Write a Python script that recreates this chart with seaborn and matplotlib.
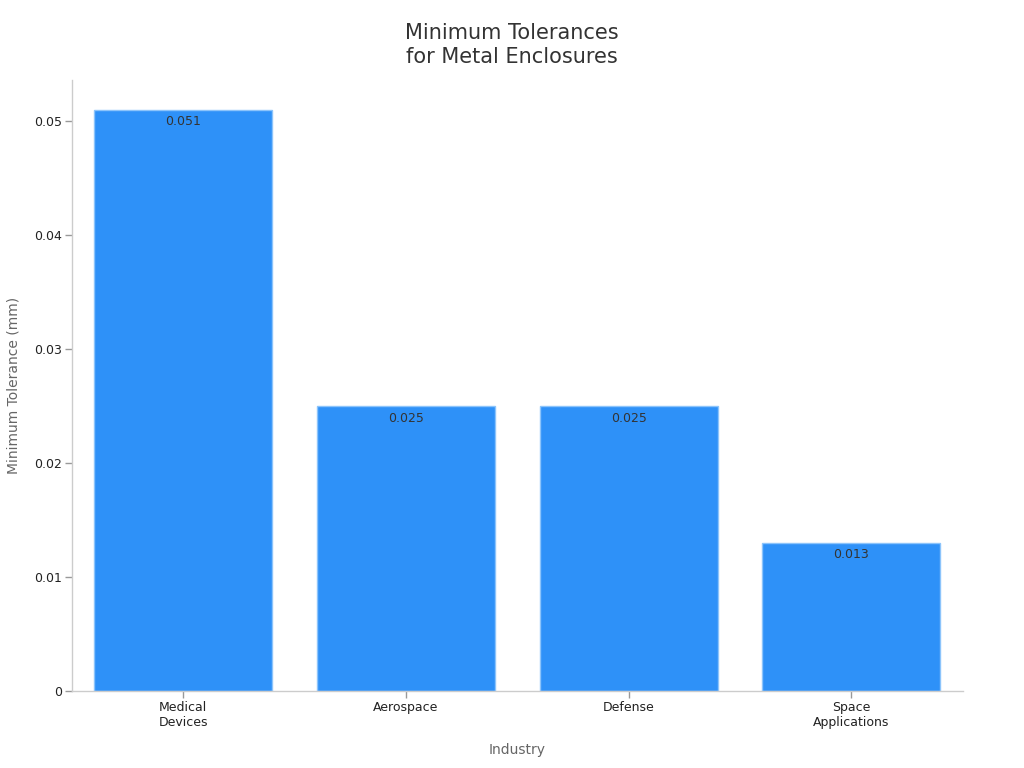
import matplotlib
matplotlib.use("Agg")
import matplotlib.pyplot as plt
import seaborn as sns
import pandas as pd
from matplotlib.ticker import FuncFormatter

industries = ["Medical\nDevices", "Aerospace", "Defense", "Space\nApplications"]
tolerances = [0.051, 0.025, 0.025, 0.013]

df = pd.DataFrame({"Industry": industries, "Tolerance": tolerances})

sns.set_style("white")
plt.rcParams['font.family'] = ['DejaVu Sans']

fig = plt.figure(figsize=(10.24, 7.68), dpi=100)
ax = fig.add_axes([0.0703, 0.1003, 0.8697, 0.7957])

sns.barplot(data=df, x="Industry", y="Tolerance", color="#2e91f8", saturation=1,
            width=0.8, edgecolor="#8cc4fb", linewidth=1, ax=ax)

for i, v in enumerate(tolerances):
    ax.text(i, v - 0.0005, f"{v:g}", ha="center", va="top", fontsize=9, color="#333333")

ax.set_xlim(-0.5, 3.5)
ax.set_ylim(0, 0.0536)
ax.set_yticks([0, 0.01, 0.02, 0.03, 0.04, 0.05])
ax.yaxis.set_major_formatter(FuncFormatter(lambda v, p: "0" if v == 0 else f"{v:g}"))

for s in ["top", "right"]:
    ax.spines[s].set_visible(False)
for s in ["left", "bottom"]:
    ax.spines[s].set_color("#cccccc")
    ax.spines[s].set_linewidth(1)

ax.tick_params(axis="both", bottom=True, left=True, length=5, width=1, color="#999999",
               labelsize=9, labelcolor="#222222", pad=2)
ax.set_xlabel("Industry", fontsize=10, color="#666666", labelpad=10)
ax.set_ylabel("Minimum Tolerance (mm)", fontsize=10, color="#666666", labelpad=10)

fig.suptitle("Minimum Tolerances\nfor Metal Enclosures", fontsize=15, color="#333333",
             y=0.97, linespacing=1.25)

fig.savefig("out.png", dpi=100)
